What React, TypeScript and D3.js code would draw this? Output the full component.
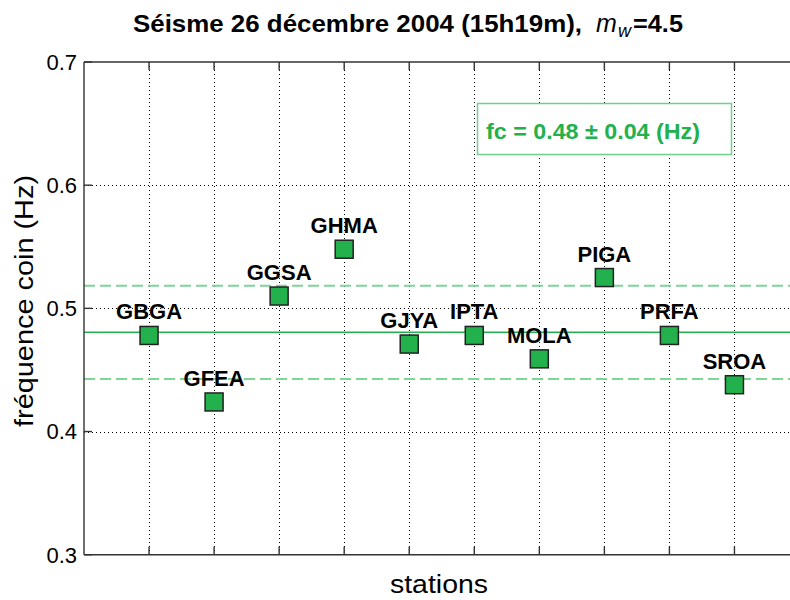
import React from "react";
import * as d3 from "d3";

const stations = ["GBGA", "GFEA", "GGSA", "GHMA", "GJYA", "IPTA", "MOLA", "PIGA", "PRFA", "SROA"];
const cornerFreq = [0.478, 0.424, 0.510, 0.548, 0.471, 0.478, 0.459, 0.525, 0.478, 0.438];
const meanFc = 0.4805;
const stdFc = 0.0378;
const yTicks = [0.3, 0.4, 0.5, 0.6, 0.7];
const yTickLabels = ["0.3", "0.4", "0.5", "0.6", "0.7"];
const boxLabel = "fc = 0.48 \u00b1 0.04 (Hz)";
const titleMain = "S\u00e9isme 26 d\u00e9cembre 2004 (15h19m),";
const titleMag = "=4.5";

const W = 790;
const H = 600;
const L = 84;
const T = 62;
const B = 554.7;
const R = 799.5;
const FONT = "'Liberation Sans', Arial, Helvetica, sans-serif";
const GREEN = "#22b14c";

export default function App() {
  const x = d3.scaleLinear().domain([0, stations.length + 1]).range([L, R]);
  const y = d3.scaleLinear().domain([0.3, 0.7]).range([B, T]);
  const xTicks = stations.map((_, i) => i + 1);
  const gridY = yTicks.filter((t) => t > 0.3 && t < 0.7);
  const axisColor = "#333";
  const tickLen = 8;
  const ms = 18;

  return (
    <svg
      width={W}
      height={H}
      style={{ position: "absolute", left: 0, top: 0, display: "block", background: "#fff" }}
      fontFamily={FONT}
    >
      <rect x={0} y={0} width={W} height={H} fill="#fff" />
      {/* grid */}
      <g stroke="#000" strokeWidth={1} strokeDasharray="1,3" shapeRendering="crispEdges">
        {xTicks.map((t) => (
          <line key={"gx" + t} x1={Math.round(x(t))} x2={Math.round(x(t))} y1={T} y2={B} />
        ))}
        {gridY.map((t) => (
          <line key={"gy" + t} x1={L} x2={R} y1={Math.round(y(t))} y2={Math.round(y(t))} />
        ))}
      </g>
      {/* mean and +- std lines */}
      <line x1={L} x2={R} y1={y(meanFc)} y2={y(meanFc)} stroke={GREEN} strokeWidth={1.5} />
      <line
        x1={L}
        x2={R}
        y1={y(meanFc + stdFc)}
        y2={y(meanFc + stdFc)}
        stroke="#7fd49a"
        strokeWidth={2}
        strokeDasharray="11,5"
      />
      <line
        x1={L}
        x2={R}
        y1={y(meanFc - stdFc)}
        y2={y(meanFc - stdFc)}
        stroke="#7fd49a"
        strokeWidth={2}
        strokeDasharray="11,5"
      />
      {/* axes box */}
      <g stroke={axisColor} strokeWidth={1.4}>
        <line x1={L} x2={L} y1={T} y2={B} />
        <line x1={L} x2={R} y1={T} y2={T} />
        <line x1={L} x2={R} y1={B} y2={B} />
        <line x1={R} x2={R} y1={T} y2={B} />
        {yTicks.map((t) => (
          <line key={"ty" + t} x1={L} x2={L + tickLen} y1={y(t)} y2={y(t)} />
        ))}
        {xTicks.map((t) => (
          <g key={"tx" + t}>
            <line x1={x(t)} x2={x(t)} y1={B} y2={B - tickLen} />
            <line x1={x(t)} x2={x(t)} y1={T} y2={T + tickLen} />
          </g>
        ))}
      </g>
      {/* y tick labels */}
      <g fontSize={22} fill="#000" textAnchor="end">
        {yTicks.map((t, i) => (
          <text key={"yl" + t} x={L - 7} y={y(t)} dy="0.36em">
            {yTickLabels[i]}
          </text>
        ))}
      </g>
      {/* markers */}
      {cornerFreq.map((v, i) => (
        <rect
          key={"m" + i}
          x={x(i + 1) - ms / 2}
          y={y(v) - ms / 2}
          width={ms}
          height={ms}
          fill={GREEN}
          stroke="#222"
          strokeWidth={1.5}
        />
      ))}
      {/* station labels */}
      <g fontSize={22} fontWeight="bold" fill="#000" textAnchor="middle">
        {cornerFreq.map((v, i) => (
          <text key={"s" + i} x={x(i + 1)} y={y(v) - 16}>
            {stations[i]}
          </text>
        ))}
      </g>
      {/* annotation box */}
      <rect x={477.5} y={103.5} width={254} height={51} fill="#fff" stroke="#6fd08c" strokeWidth={1.5} />
      <text
        x={486}
        y={138.5}
        fontSize={22}
        fontWeight="bold"
        fill={GREEN}
        textLength={214}
        lengthAdjust="spacingAndGlyphs"
      >
        {boxLabel}
      </text>
      {/* title */}
      <text x={133} y={32} fontSize={24.5} fontWeight="bold" fill="#000" textLength={449} lengthAdjust="spacingAndGlyphs">
        {titleMain}
      </text>
      <text x={596} y={32} fontSize={25} fontStyle="italic" fill="#000">
        m
      </text>
      <text x={618} y={37} fontSize={18} fontStyle="italic" fill="#000">
        w
      </text>
      <text x={633} y={32} fontSize={24.5} fontWeight="bold" fill="#000" textLength={50} lengthAdjust="spacingAndGlyphs">
        {titleMag}
      </text>
      {/* axis labels */}
      <text
        x={439}
        y={593}
        fontSize={26}
        textAnchor="middle"
        fill="#000"
        textLength={98}
        lengthAdjust="spacingAndGlyphs"
      >
        stations
      </text>
      <text
        transform={`translate(33,301) rotate(-90)`}
        fontSize={25}
        textAnchor="middle"
        fill="#000"
        textLength={252}
        lengthAdjust="spacingAndGlyphs"
      >
        fréquence coin (Hz)
      </text>
    </svg>
  );
}
